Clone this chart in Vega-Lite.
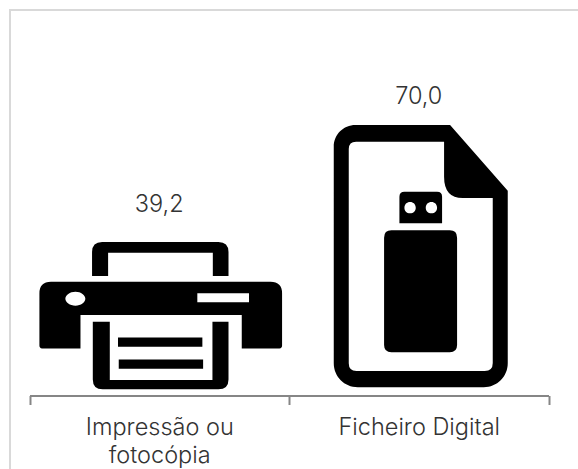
{
"$schema":"https://vega.github.io/schema/vega-lite/v6.json",
"autosize":"none",
"padding":{"left":10,"top":10,"right":-2,"bottom":-1},
"width":570,"height":460,
"background":"white",
"view":{"stroke":"#d9d9d9","strokeWidth":2,"fill":"white"},
"data":{"values":[
{"categoria":"Impressão ou fotocópia","valor":39.2,"rotulo":"39,2"},
{"categoria":"Ficheiro Digital","valor":70.0,"rotulo":"70,0"}
]},
"encoding":{
"x":{"field":"categoria","type":"nominal","sort":null,"title":null,
"scale":{"range":[19.5,538.5],"paddingInner":0,"paddingOuter":0},
"axis":{"offset":-74.5,"orient":"bottom","tickBand":"extent","tickSize":9,"tickWidth":2,"tickColor":"#868686","domainColor":"#868686","domainWidth":2,"labelAngle":0,"labelFont":"Inter","labelFontWeight":300,"labelFontSize":23.5,"labelColor":"#333333","labelPadding":23,"labelLineHeight":27.5,"labelLimit":0,"labelBaseline":"middle","labelExpr":"datum.label == 'Impressão ou fotocópia' ? ['Impressão ou','fotocópia'] : datum.label"}}
},
"layer":[
{"mark":{"type":"point","filled":true,"fill":"#000000","opacity":1,"strokeWidth":0},
"encoding":{
"y":{"field":"valor","type":"quantitative","title":null,"axis":null,"scale":{"domain":[0,70],"range":[378,115]}},
"size":{"field":"valor","type":"quantitative","legend":null,"scale":{"type":"pow","exponent":2,"domain":[0,70],"range":[0,0.4444]}},
"shape":{"field":"categoria","type":"nominal","legend":null,"sort":null,"scale":{"domain":["Impressão ou fotocópia","Ficheiro Digital"],"range":[
"M -360 189 V 61 Q -360 7 -306 7 H 317 Q 371 7 371 61 V 189 H 287 V 64 H -274 V 189 Z M -642 282 Q -642 220 -580 220 H 596 Q 658 220 658 282 V 562 Q 658 577 644 577 H 442 V 398 H -422 V 577 H -628 Q -642 577 -642 562 Z M -503 311 C -503 330 -479 348 -449 348 C -419 348 -396 330 -396 311 C -396 292 -419 273 -449 273 C -479 273 -503 292 -503 311 Z M 204 282 V 329 H 481 V 282 Z M -356 434 H -265 V 746 H 285 V 434 H 371 V 743 Q 371 796 317 796 H -303 Q -356 796 -356 743 Z M -221 518 H 231 V 568 H -221 Z M -217 636 H 235 V 686 H -217 Z",
"M -255 65 C -255 29 -226 0 -190 0 H 94 L 267 197 V 715 C 267 755 235 787 195 787 H -183 C -223 787 -255 755 -255 715 Z M -210 72 V 715 Q -210 738 -187 738 H 198 Q 222 738 222 714 V 219 H 132 Q 76 219 76 155 V 50 H -188 Q -210 50 -210 72 Z M -58 295 V 215 Q -58 200 -43 200 H 55 Q 70 200 70 215 V 295 Z M -43 248 C -43 258 -36 265 -26 265 C -16 265 -9 258 -9 248 C -9 238 -16 231 -26 231 C -36 231 -43 238 -43 248 Z M 21 248 C 21 258 28 265 38 265 C 48 265 55 258 55 248 C 55 238 48 231 38 231 C 28 231 21 238 21 248 Z M -104 338 Q -104 316 -82 316 H 93 Q 115 316 115 338 V 660 Q 115 682 93 682 H -82 Q -104 682 -104 660 Z"
]}}
}},
{"mark":{"type":"text","font":"Inter","fontWeight":300,"fontSize":23.5,"color":"#333333","baseline":"middle","align":"center"},
"encoding":{
"y":{"field":"valor","type":"quantitative","title":null,"axis":null,"scale":{"domain":[0,70],"range":[333,87]}},
"text":{"field":"rotulo","type":"nominal"}
}}
],
"resolve":{"scale":{"y":"independent"}}
}
